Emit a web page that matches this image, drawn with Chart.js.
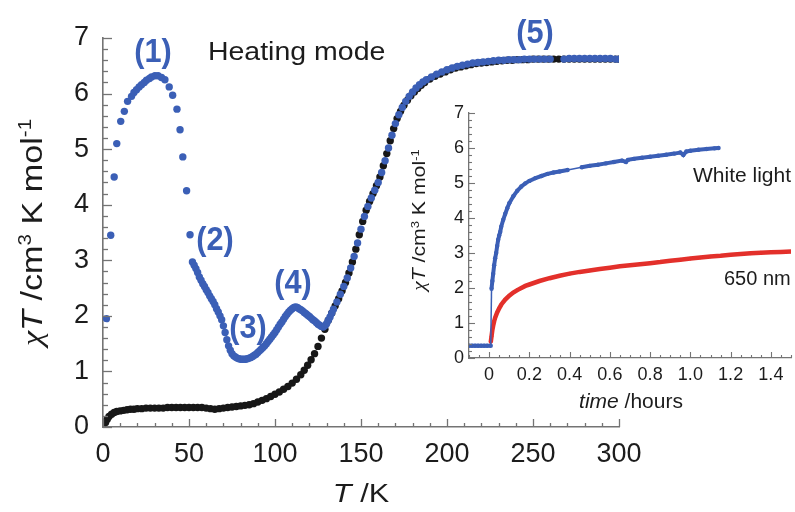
<!DOCTYPE html>
<html>
<head>
<meta charset="utf-8">
<script src="https://cdn.jsdelivr.net/npm/chart.js@4.4.1/dist/chart.umd.min.js"></script>
<style>
  html, body { margin: 0; padding: 0; background: #ffffff; }
  #wrap { position: relative; width: 795px; height: 512px; overflow: hidden; }
  #wrap canvas { position: absolute; left: 0; top: 0; }
</style>
</head>
<body>
<div id="wrap">
  <canvas id="main" width="795" height="512"></canvas>
  <canvas id="inset" width="795" height="512"></canvas>
</div>
<script>
// ---- tick labels ----
const tempTicks = [0, 50, 100, 150, 200, 250, 300];
const chiTicks = [0, 1, 2, 3, 4, 5, 6, 7];
const timeTicks = [0, 0.2, 0.4, 0.6, 0.8, 1, 1.2, 1.4];
const insetChiTicks = [0, 1, 2, 3, 4, 5, 6, 7];

// ---- main panel: chi*T vs T, dark (cooling) branch ----
const darkT = [1.5, 2.5, 3.5, 5, 6.5, 8, 10, 12, 14, 16, 18, 20, 22.5, 25, 27.5, 30, 32.5, 35, 37.5, 40,
  42.5, 45, 47.5, 50, 52.5, 55, 57.5, 60, 62.5, 65, 67.5, 70, 72.5, 75, 77.5, 80, 82.5, 85, 87.5, 90,
  92.5, 95, 97.5, 100, 102.5, 105, 107.5, 110, 112.5, 115, 117, 119, 121, 123, 125, 127, 129, 131, 133, 135,
  137, 139, 141, 143, 145, 147, 149, 151, 153, 155, 157, 159, 161, 163, 165, 167, 169, 171, 173, 175,
  177, 179, 181, 183, 185, 187, 190, 193, 196, 199, 202, 205, 208, 211, 214, 217, 220, 223, 226, 229,
  232, 235, 238, 241, 244, 247, 250, 253, 256, 259, 262, 265, 268, 271, 274, 277, 280, 283, 286, 289,
  292, 295, 298, 300];
const darkChi = [0.08, 0.14, 0.19, 0.23, 0.26, 0.28, 0.29, 0.30, 0.31, 0.32, 0.32, 0.33, 0.33, 0.34, 0.34, 0.34, 0.34, 0.34, 0.35, 0.35,
  0.35, 0.35, 0.35, 0.35, 0.35, 0.35, 0.35, 0.34, 0.33, 0.32, 0.33, 0.34, 0.35, 0.36, 0.37, 0.38, 0.39, 0.40, 0.42, 0.45,
  0.48, 0.51, 0.55, 0.59, 0.63, 0.68, 0.73, 0.79, 0.86, 0.94, 1.02, 1.11, 1.21, 1.32, 1.45, 1.60, 1.76, 1.92, 2.05, 2.18,
  2.31, 2.45, 2.60, 2.77, 2.97, 3.20, 3.46, 3.70, 3.90, 4.06, 4.20, 4.34, 4.50, 4.70, 4.92, 5.15, 5.37, 5.55, 5.68, 5.79,
  5.88, 5.96, 6.03, 6.09, 6.15, 6.20, 6.26, 6.31, 6.35, 6.39, 6.43, 6.46, 6.48, 6.50, 6.52, 6.54, 6.55, 6.56, 6.57, 6.58,
  6.59, 6.60, 6.60, 6.61, 6.61, 6.61, 6.62, 6.62, 6.62, 6.62, 6.62, 6.62, 6.62, 6.62, 6.62, 6.62, 6.62, 6.62, 6.62, 6.62,
  6.62, 6.62, 6.62, 6.62];

// ---- main panel: heating after irradiation ----
const heatT = [2, 4.5, 6.5, 8, 10.3, 12.4, 14.3, 16.6, 18, 19.5, 21, 22.4, 24, 25.3, 27, 28.2, 30.2, 32, 34, 36,
  38.5, 40.5, 43, 44.8, 46.4, 48.6, 50.6, 52, 53, 54, 55, 56, 57, 58, 59, 60, 61, 62, 63, 64,
  65, 66, 67, 68, 69, 70, 71, 72, 73, 74, 75, 76, 77, 78, 79, 80, 81, 82, 83, 84,
  85, 86, 87, 88, 89, 90, 91, 92, 93, 94, 95, 96, 97, 98, 99, 100, 101, 102, 103, 104,
  105, 106, 107, 108, 109, 110, 111, 112, 113, 114, 115, 116, 117, 118, 119, 120, 121, 122, 123, 124,
  125, 126, 127, 128, 129, 130, 131, 132, 133, 134, 136, 138, 140, 142, 144, 146, 148, 150, 152, 154,
  156, 158, 160, 162, 164, 166, 168, 170, 172, 174, 176, 178, 180, 182, 184, 186, 188, 191, 194, 197,
  200, 203, 206, 209, 212, 215, 218, 221, 224, 227, 230, 233, 236, 239, 242, 245, 248, 251, 254, 257,
  260, 268, 271, 274, 277, 280, 283, 286, 289, 292, 295, 298, 300];
const heatChi = [1.95, 3.45, 4.50, 5.10, 5.50, 5.68, 5.86, 5.95, 6.02, 6.07, 6.12, 6.16, 6.20, 6.24, 6.27, 6.30, 6.32, 6.32, 6.29, 6.25,
  6.12, 5.97, 5.72, 5.35, 4.86, 4.25, 3.46, 2.97, 2.91, 2.85, 2.78, 2.70, 2.64, 2.58, 2.53, 2.47, 2.42, 2.36, 2.31, 2.26,
  2.20, 2.13, 2.07, 2.00, 1.93, 1.82, 1.70, 1.57, 1.46, 1.38, 1.32, 1.28, 1.26, 1.24, 1.23, 1.22, 1.22, 1.22, 1.22, 1.23,
  1.24, 1.25, 1.27, 1.29, 1.31, 1.34, 1.37, 1.40, 1.43, 1.46, 1.50, 1.54, 1.58, 1.62, 1.66, 1.70, 1.75, 1.80, 1.85, 1.89,
  1.94, 1.99, 2.03, 2.07, 2.10, 2.13, 2.15, 2.16, 2.15, 2.13, 2.11, 2.09, 2.06, 2.04, 2.01, 1.99, 1.96, 1.93, 1.91, 1.88,
  1.85, 1.83, 1.81, 1.80, 1.82, 1.86, 1.92, 1.98, 2.05, 2.12, 2.25, 2.39, 2.53, 2.68, 2.86, 3.07, 3.31, 3.56, 3.79, 3.97,
  4.12, 4.26, 4.40, 4.58, 4.79, 5.02, 5.25, 5.46, 5.62, 5.75, 5.86, 5.95, 6.03, 6.10, 6.16, 6.21, 6.25, 6.30, 6.35, 6.39,
  6.43, 6.46, 6.49, 6.51, 6.53, 6.55, 6.56, 6.57, 6.58, 6.59, 6.60, 6.60, 6.61, 6.61, 6.61, 6.62, 6.62, 6.62, 6.62, 6.62,
  6.62, 6.62, 6.63, 6.63, 6.63, 6.63, 6.63, 6.63, 6.63, 6.63, 6.63, 6.62, 6.62];

// ---- inset: chi*T vs irradiation time ----
const whiteTime = [-0.1, -0.085, -0.07, -0.055, -0.04, -0.025, -0.01, 0.008, 0.012, 0.016, 0.02, 0.025, 0.03, 0.035, 0.04, 0.045, 0.05, 0.055, 0.06, 0.07,
  0.08, 0.09, 0.1, 0.12, 0.14, 0.16, 0.18, 0.2, 0.23, 0.26, 0.29, 0.32, 0.35, 0.39, 0.46, 0.5, 0.54, 0.58, 0.62, 0.66,
  0.68, 0.69, 0.72, 0.76, 0.8, 0.84, 0.88, 0.92, 0.95, 0.965, 0.98, 1.0, 1.04, 1.08, 1.12, 1.14];
const whiteChi = [0.35, 0.35, 0.35, 0.35, 0.35, 0.35, 0.35, 0.35, 1.98, 2.2, 2.4, 2.65, 2.85, 3.0, 3.2, 3.38, 3.5, 3.6, 3.75, 3.95,
  4.12, 4.28, 4.42, 4.62, 4.78, 4.9, 4.99, 5.06, 5.14, 5.2, 5.26, 5.3, 5.33, 5.37, 5.45, 5.49, 5.52, 5.56, 5.6, 5.64,
  5.6, 5.66, 5.69, 5.72, 5.75, 5.78, 5.81, 5.84, 5.87, 5.8, 5.9, 5.92, 5.95, 5.97, 5.99, 6.0];
const redTime = [0.008, 0.012, 0.016, 0.02, 0.025, 0.03, 0.04, 0.05, 0.06, 0.07, 0.08, 0.1, 0.12, 0.14, 0.16, 0.18, 0.2, 0.25, 0.3, 0.35,
  0.4, 0.45, 0.5, 0.55, 0.6, 0.65, 0.7, 0.75, 0.8, 0.85, 0.9, 0.95, 1.0, 1.05, 1.1, 1.15, 1.2, 1.25, 1.3, 1.35,
  1.4, 1.45, 1.5];
const redChi = [0.45, 0.62, 0.8, 0.92, 1.05, 1.15, 1.3, 1.42, 1.52, 1.6, 1.67, 1.78, 1.87, 1.94, 2.0, 2.06, 2.1, 2.2, 2.28, 2.35,
  2.41, 2.46, 2.5, 2.54, 2.58, 2.62, 2.65, 2.68, 2.71, 2.74, 2.78, 2.81, 2.84, 2.87, 2.9, 2.92, 2.95, 2.97, 2.99, 3.01,
  3.02, 3.03, 3.04];

// ---- styling ----
const SANS = '"Liberation Sans", Arial, Helvetica, sans-serif';
const SERIF = '"Liberation Serif", "Times New Roman", serif';
const BLUE = '#3b5fb6';
const BLACK = '#171717';
const RED = '#e3302b';
const AXIS = '#747474';
const INK = '#1c1c1c';

const pairs = (xs, ys) => xs.map((x, i) => ({ x: x, y: ys[i] }));

// inward tick marks along the bottom and left axes, placed through each scale
const tickMarks = {
  id: 'tickMarks',
  afterDraw(chart, args, opts) {
    const ctx = chart.ctx;
    const area = chart.chartArea;
    ctx.save();
    ctx.strokeStyle = opts.color;
    ctx.lineWidth = opts.width;
    const run = (scale, cfg, horizontal) => {
      const n = Math.round((cfg.max - cfg.min) / cfg.minorStep);
      for (let k = 0; k <= n; k++) {
        const v = cfg.min + k * cfg.minorStep;
        const r = v / cfg.majorStep;
        const major = Math.abs(r - Math.round(r)) < 1e-6;
        const len = major ? cfg.majorLen : cfg.minorLen;
        const p = Math.round(scale.getPixelForValue(v)) + 0.5;
        ctx.beginPath();
        if (horizontal) {
          ctx.moveTo(p, area.bottom);
          ctx.lineTo(p, area.bottom - len);
        } else {
          ctx.moveTo(area.left, p);
          ctx.lineTo(area.left + len, p);
        }
        ctx.stroke();
      }
    };
    run(chart.scales.x, opts.x, true);
    run(chart.scales.y, opts.y, false);
    ctx.restore();
  }
};

// text made of runs with their own fonts and baseline shifts
function drawRich(ctx, parts, x, y, o) {
  ctx.save();
  ctx.translate(x, y);
  if (o.rotate) ctx.rotate(o.rotate);
  ctx.scale(o.sx || 1, 1);
  ctx.textAlign = 'left';
  ctx.textBaseline = 'alphabetic';
  ctx.fillStyle = o.color || INK;
  let w = 0;
  parts.forEach(p => { ctx.font = p.font; w += ctx.measureText(p.t).width; });
  let cx = o.align === 'center' ? -w / 2 : (o.align === 'right' ? -w : 0);
  parts.forEach(p => {
    ctx.font = p.font;
    ctx.fillText(p.t, cx, -(p.rise || 0));
    cx += ctx.measureText(p.t).width;
  });
  ctx.restore();
}

function chiTitle(size) {
  const small = Math.round(size * 0.6);
  const rise = Math.round(size * 0.36);
  return [
    { t: 'χ', font: 'italic ' + size + 'px ' + SERIF },
    { t: 'T', font: 'italic ' + size + 'px ' + SANS },
    { t: ' /cm', font: size + 'px ' + SANS },
    { t: '3', font: small + 'px ' + SANS, rise: rise },
    { t: ' K mol', font: size + 'px ' + SANS },
    { t: '-1', font: small + 'px ' + SANS, rise: rise }
  ];
}

const mainText = {
  id: 'mainText',
  afterDraw(chart) {
    const ctx = chart.ctx;
    const xs = chart.scales.x, ys = chart.scales.y;
    const at = (t, c) => [xs.getPixelForValue(t), ys.getPixelForValue(c)];
    const tag = (s, t, c) => {
      const [px, py] = at(t, c);
      drawRich(ctx, [{ t: s, font: 'bold 33px ' + SANS }], px, py, { align: 'center', color: BLUE, sx: 0.93 });
    };
    tag('(1)', 29.1, 6.57);
    tag('(2)', 65.1, 3.19);
    tag('(3)', 84.3, 1.60);
    tag('(4)', 110.5, 2.41);
    tag('(5)', 251.2, 6.91);
    const [hx, hy] = at(61, 6.6);
    drawRich(ctx, [{ t: 'Heating mode', font: '25px ' + SANS }], hx, hy, { align: 'left', sx: 1.14 });
    // axis titles
    const area = chart.chartArea;
    drawRich(ctx, chiTitle(30), 42, (area.top + area.bottom) / 2, { align: 'center', rotate: -Math.PI / 2, sx: 1.14 });
    drawRich(ctx, [
      { t: 'T', font: 'italic 26px ' + SANS },
      { t: ' /K', font: '26px ' + SANS }
    ], 361, 502, { align: 'center', sx: 1.18 });
  }
};

const insetText = {
  id: 'insetText',
  afterDraw(chart) {
    const ctx = chart.ctx;
    drawRich(ctx, chiTitle(18), 425, 220, { align: 'center', rotate: -Math.PI / 2, sx: 1.18 });
    drawRich(ctx, [
      { t: 'time', font: 'italic 21px ' + SANS },
      { t: ' /hours', font: '21px ' + SANS }
    ], 631, 408, { align: 'center' });
    drawRich(ctx, [{ t: 'White light', font: '20px ' + SANS }], 693, 182, { align: 'left', sx: 1.05 });
    drawRich(ctx, [{ t: '650 nm', font: '20px ' + SANS }], 724, 285, { align: 'left' });
  }
};

const quiet = { legend: { display: false }, tooltip: { enabled: false } };

// ---- main chart ----
new Chart(document.getElementById('main'), {
  type: 'scatter',
  data: {
    datasets: [
      { label: 'heating', data: pairs(heatT, heatChi), backgroundColor: BLUE, pointRadius: 3.7, pointBorderWidth: 0, order: 0 },
      { label: 'dark', data: pairs(darkT, darkChi), backgroundColor: BLACK, pointRadius: 3.7, pointBorderWidth: 0, order: 1 }
    ]
  },
  options: {
    responsive: false,
    animation: false,
    events: [],
    layout: { padding: { left: 0, top: 38, right: 176, bottom: 0 } },
    plugins: Object.assign({}, quiet, {
      tickMarks: {
        color: AXIS, width: 1.3,
        x: { min: 0, max: 300, minorStep: 10, majorStep: 50, majorLen: 8, minorLen: 4 },
        y: { min: 0, max: 7, minorStep: 0.2, majorStep: 1, majorLen: 9, minorLen: 5 }
      }
    }),
    scales: {
      x: {
        type: 'linear', min: 0, max: 300,
        afterBuildTicks: s => { s.ticks = tempTicks.map(v => ({ value: v })); },
        afterFit: s => { s.height = 85; },
        grid: { display: false, drawTicks: false },
        border: { display: true, color: AXIS, width: 1.6 },
        ticks: { font: { family: SANS, size: 27 }, color: INK, padding: 11, maxRotation: 0, autoSkip: false }
      },
      y: {
        type: 'linear', min: 0, max: 7,
        afterBuildTicks: s => { s.ticks = chiTicks.map(v => ({ value: v })); },
        afterFit: s => { s.width = 103; },
        grid: { display: false, drawTicks: false },
        border: { display: true, color: AXIS, width: 1.6 },
        ticks: { font: { family: SANS, size: 27 }, color: INK, padding: 14, autoSkip: false }
      }
    }
  },
  plugins: [tickMarks, mainText]
});

// ---- inset chart ----
new Chart(document.getElementById('inset'), {
  type: 'scatter',
  data: {
    datasets: [
      {
        label: 'White light', data: pairs(whiteTime, whiteChi), showLine: true,
        borderColor: BLUE, borderWidth: 4, backgroundColor: BLUE, pointRadius: 2.2, pointBorderWidth: 0,
        segment: {
          borderWidth: c => (c.p1.parsed.y - c.p0.parsed.y > 1 || c.p1.parsed.x - c.p0.parsed.x > 0.055) ? 1.5 : undefined
        }
      },
      {
        label: '650 nm', data: pairs(redTime, redChi), showLine: true,
        borderColor: RED, borderWidth: 4.5, backgroundColor: RED, pointRadius: 1.8, pointBorderWidth: 0
      }
    ]
  },
  options: {
    responsive: false,
    animation: false,
    events: [],
    layout: { padding: { left: 395, top: 113, right: 2, bottom: 102 } },
    plugins: Object.assign({}, quiet, {
      tickMarks: {
        color: AXIS, width: 1.1,
        x: { min: -0.1, max: 1.5, minorStep: 0.05, majorStep: 0.2, majorLen: 6, minorLen: 3 },
        y: { min: 0, max: 7, minorStep: 0.2, majorStep: 1, majorLen: 6, minorLen: 3 }
      }
    }),
    scales: {
      x: {
        type: 'linear', min: -0.1, max: 1.5,
        afterBuildTicks: s => { s.ticks = timeTicks.map(v => ({ value: v })); },
        afterFit: s => { s.height = 52; },
        grid: { display: false, drawTicks: false },
        border: { display: true, color: AXIS, width: 1.3 },
        ticks: { font: { family: SANS, size: 18 }, color: INK, padding: 6, maxRotation: 0, autoSkip: false }
      },
      y: {
        type: 'linear', min: 0, max: 7,
        afterBuildTicks: s => { s.ticks = insetChiTicks.map(v => ({ value: v })); },
        afterFit: s => { s.width = 74; },
        grid: { display: false, drawTicks: false },
        border: { display: true, color: AXIS, width: 1.3 },
        ticks: { font: { family: SANS, size: 18 }, color: INK, padding: 5, autoSkip: false }
      }
    }
  },
  plugins: [tickMarks, insetText]
});
</script>
</body>
</html>
